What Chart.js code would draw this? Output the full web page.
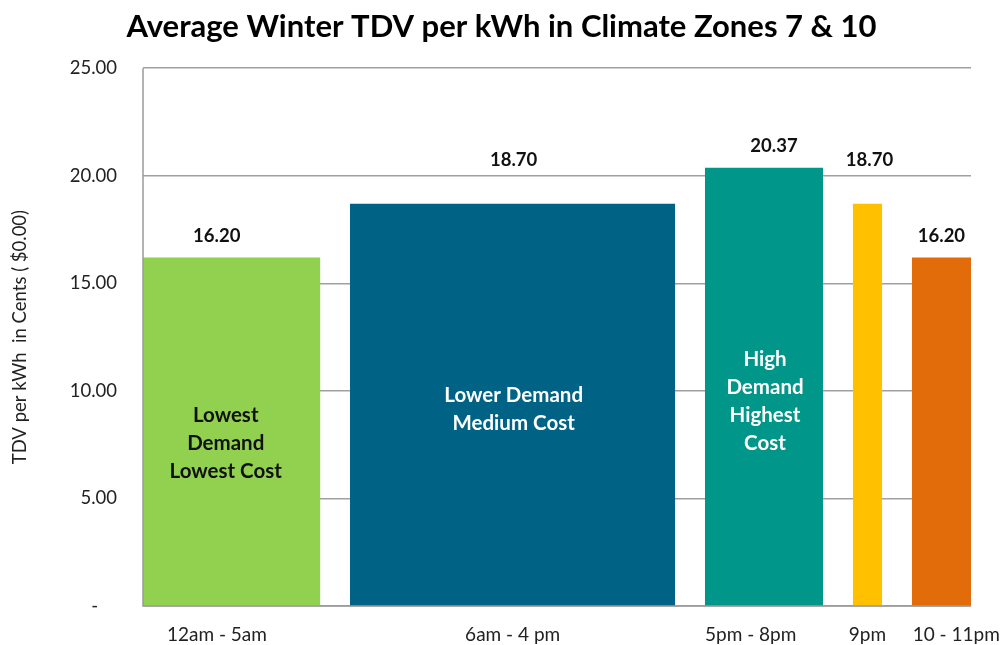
<!DOCTYPE html>
<html>
<head>
<meta charset="utf-8">
<script src="https://cdn.jsdelivr.net/npm/chart.js@4/dist/chart.umd.min.js"></script>
<style>
html,body{margin:0;padding:0;background:#fff;}
#wrap{width:1003px;height:645px;position:relative;}
</style>
</head>
<body>
<div id="wrap"><canvas id="c" width="1003" height="645"></canvas></div>
<script>
// ---- data ----
const categories = ['12am - 5am', '6am - 4 pm', '5pm - 8pm', '9pm', '10 - 11pm'];
const hoursPerPeriod = [6, 11, 4, 1, 2];
const tdvValues = [16.20, 18.70, 20.37, 18.70, 16.20];
const valueLabels = ['16.20', '18.70', '20.37', '18.70', '16.20'];
const periodNotes = [['Lowest', 'Demand', 'Lowest Cost'], ['Lower Demand', 'Medium Cost'], ['High', 'Demand', 'Highest', 'Cost'], [], []];
const yTicks = [0, 5, 10, 15, 20, 25];

// ---- styles ----
const barColors = ['#92D050', '#006386', '#00968A', '#FFC000', '#E36C0A'];
const noteColors = ['#111111', '#ffffff', '#ffffff', '#ffffff', '#ffffff'];
const FONT = 'Lato, Carlito, Calibri, sans-serif';
const gapUnits = 1;

// build spans from hours (gap of one unit between periods)
const spans = [];
let cursor = 0;
hoursPerPeriod.forEach((h, i) => {
  spans.push([cursor, cursor + h]);
  cursor += h + (i < hoursPerPeriod.length - 1 ? gapUnits : 0);
});
const xMax = cursor;
const centers = spans.map(s => (s[0] + s[1]) / 2);

const datasets = spans.map((s, i) => ({
  label: categories[i],
  data: [{x: s[0], y: 0}, {x: s[0], y: tdvValues[i]}, {x: s[1], y: tdvValues[i]}, {x: s[1], y: 0}],
  backgroundColor: barColors[i],
  borderColor: barColors[i],
  borderWidth: 0,
  pointRadius: 0,
  tension: 0,
  fill: 'origin',
  xAxisID: 'x',
  yAxisID: 'y'
}));

// label layout (pixel offsets)
const valueLabelRise = [21, 44, 22, 44, 21];
const valueLabelShiftX = [-15, 1, 10, 2, 0];
const noteCenterShiftY = [12, 5, 14, 0, 0]; // relative to half bar height
const noteShiftX = [-6, 1, 1, 0, 0];
const tickShift = [-0.5, 0, -0.45, 0, 0.5];

const labelPlugin = {
  id: 'barLabels',
  afterDatasetsDraw(chart) {
    const {ctx, scales: {x, y}, chartArea} = chart;
    ctx.save();
    // axis lines
    ctx.strokeStyle = '#9a9a9a';
    ctx.lineWidth = 1.5;
    ctx.beginPath();
    ctx.moveTo(chartArea.left, chartArea.top);
    ctx.lineTo(chartArea.left, chartArea.bottom);
    ctx.lineTo(chartArea.right, chartArea.bottom);
    ctx.stroke();
    ctx.textAlign = 'center';
    ctx.textBaseline = 'middle';
    spans.forEach((s, i) => {
      const cx = x.getPixelForValue(centers[i]);
      const top = y.getPixelForValue(tdvValues[i]);
      ctx.fillStyle = '#111111';
      ctx.font = 'bold 18.5px ' + FONT;
      ctx.fillText(valueLabels[i], cx + valueLabelShiftX[i], top - valueLabelRise[i]);
      const lines = periodNotes[i];
      if (lines.length) {
        ctx.fillStyle = noteColors[i];
        ctx.font = 'bold 20.5px ' + FONT;
        const lh = 28;
        const mid = y.getPixelForValue(tdvValues[i] / 2) + noteCenterShiftY[i];
        const startY = mid - (lines.length - 1) * lh / 2;
        lines.forEach((t, k) => ctx.fillText(t, cx + noteShiftX[i], startY + k * lh));
      }
    });
    ctx.restore();
  }
};

new Chart(document.getElementById('c'), {
  type: 'line',
  data: {datasets},
  options: {
    responsive: false,
    animation: false,
    events: [],
    layout: {padding: {left: 0, right: 0, top: 0, bottom: 0}},
    plugins: {
      legend: {display: false},
      tooltip: {enabled: false},
      title: {
        display: true,
        text: 'Average Winter TDV per kWh in Climate Zones 7 & 10',
        color: '#000000',
        font: {family: FONT, size: 31, weight: 'bold'},
        padding: {top: 8, bottom: 23}
      }
    },
    scales: {
      x: {
        type: 'linear',
        min: 0,
        max: xMax,
        afterBuildTicks(scale) {
          scale.ticks = centers.map((c, i) => ({value: c + tickShift[i], label: categories[i]}));
        },
        afterFit(scale) {
          scale.height = 39;
          scale.paddingLeft = 0;
          scale.paddingRight = 0;
        },
        ticks: {
          autoSkip: false,
          maxRotation: 0,
          padding: 17,
          color: '#222222',
          font: {family: FONT, size: 19},
          callback(v, i) { return categories[i]; }
        },
        grid: {display: false, drawTicks: false},
        border: {display: false}
      },
      y: {
        type: 'linear',
        position: 'left',
        min: 0,
        max: 25,
        afterBuildTicks(scale) {
          scale.ticks = yTicks.map(v => ({value: v}));
        },
        afterFit(scale) {
          scale.width = 143;
          scale.paddingTop = 0;
          scale.paddingBottom = 0;
        },
        ticks: {
          padding: 26,
          color: '#222222',
          font: {family: FONT, size: 18.5},
          callback(v) { return v === 0 ? '-    ' : v.toFixed(2); }
        },
        grid: {color: '#a0a0a0', lineWidth: 1.5, drawTicks: false},
        border: {display: false},
        title: {
          display: true,
          text: 'TDV per kWh  in Cents ( $0.00)',
          color: '#222222',
          font: {family: FONT, size: 18.5},
          padding: {top: 9, bottom: 0}
        }
      },
      yRight: {
        type: 'linear',
        position: 'right',
        display: true,
        min: 0,
        max: 25,
        afterFit(scale) {
          scale.width = 32;
          scale.paddingTop = 0;
          scale.paddingBottom = 0;
        },
        ticks: {display: false},
        grid: {display: false, drawTicks: false},
        border: {display: false}
      }
    }
  },
  plugins: [labelPlugin]
});
</script>
</body>
</html>
